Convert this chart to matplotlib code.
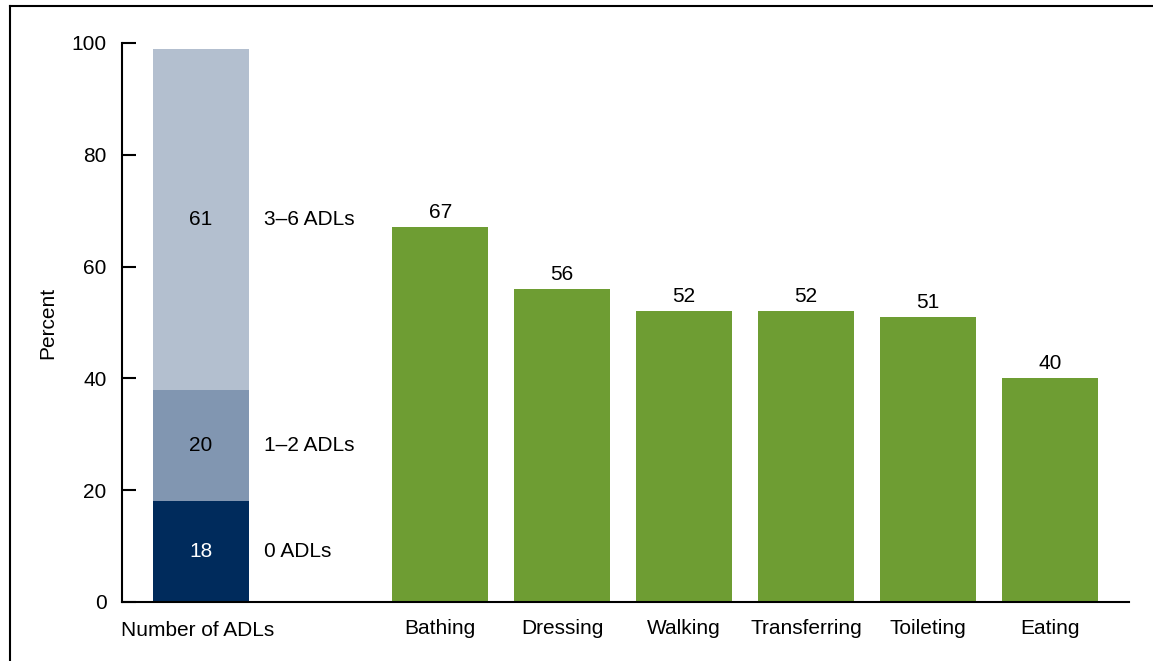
import matplotlib.pyplot as plt
from matplotlib.lines import Line2D
from matplotlib.transforms import blended_transform_factory

plt.rcParams['font.family'] = ['Liberation Sans', 'DejaVu Sans']

# Stacked bar: number of ADLs
stack_labels = ['0 ADLs', '1\u20132 ADLs', '3\u20136 ADLs']
stack_values = [18, 20, 61]
stack_colors = ['#002b5c', '#8196b1', '#b3bfcf']
stack_text_colors = ['white', 'black', 'black']

# Individual ADLs
activities = ['Bathing', 'Dressing', 'Walking', 'Transferring', 'Toileting', 'Eating']
percents = [67, 56, 52, 52, 51, 40]
green = '#6e9d33'

fs = 15

fig = plt.figure(figsize=(11.53, 6.61), dpi=100)
ax = fig.add_axes([0.1058, 0.0893, 0.9792 - 0.1058, 0.935 - 0.0893])

width = 0.787
stack_x = 0
bottom = 0
for lab, val, col, tc in zip(stack_labels, stack_values, stack_colors, stack_text_colors):
    ax.bar(stack_x, val, width=width, bottom=bottom, color=col, linewidth=0)
    mid = bottom + val / 2
    ax.text(stack_x, mid, str(val), ha='center', va='center', fontsize=fs, color=tc)
    ax.text(stack_x + 0.52, mid, lab, ha='left', va='center', fontsize=fs, color='black')
    bottom += val

xs = [1.96 + i for i in range(len(activities))]
ax.bar(xs, percents, width=width, color=green, linewidth=0)
for x, v in zip(xs, percents):
    ax.text(x, v + 0.9, str(v), ha='center', va='bottom', fontsize=fs)

ax.set_xlim(-0.648, 7.607)
ax.set_ylim(0, 100)
ax.set_yticks([0, 20, 40, 60, 80, 100])
ax.tick_params(axis='y', direction='in', length=10, width=1.5, labelsize=fs, pad=11)
ax.set_xticks(xs)
ax.set_xticklabels(activities, fontsize=fs)
ax.tick_params(axis='x', length=0, pad=12)
trans = blended_transform_factory(ax.transData, fig.transFigure)
ax.text(-0.655, 1 - 631 / 661, 'Number of ADLs', ha='left', va='center',
        fontsize=fs, transform=trans)
for s in ['top', 'right']:
    ax.spines[s].set_visible(False)
ax.spines['left'].set_linewidth(1.5)
ax.spines['bottom'].set_linewidth(1.5)
ax.set_ylabel('Percent', fontsize=fs, labelpad=10)

# figure frame: left and top lines only
fig.add_artist(Line2D([9.5 / 1153, 9.5 / 1153], [0, 1 - 5.5 / 661], color='black', lw=1.5, transform=fig.transFigure))
fig.add_artist(Line2D([9.5 / 1153, 1], [1 - 5.5 / 661, 1 - 5.5 / 661], color='black', lw=1.5, transform=fig.transFigure))

fig.savefig('out.png', dpi=100)
